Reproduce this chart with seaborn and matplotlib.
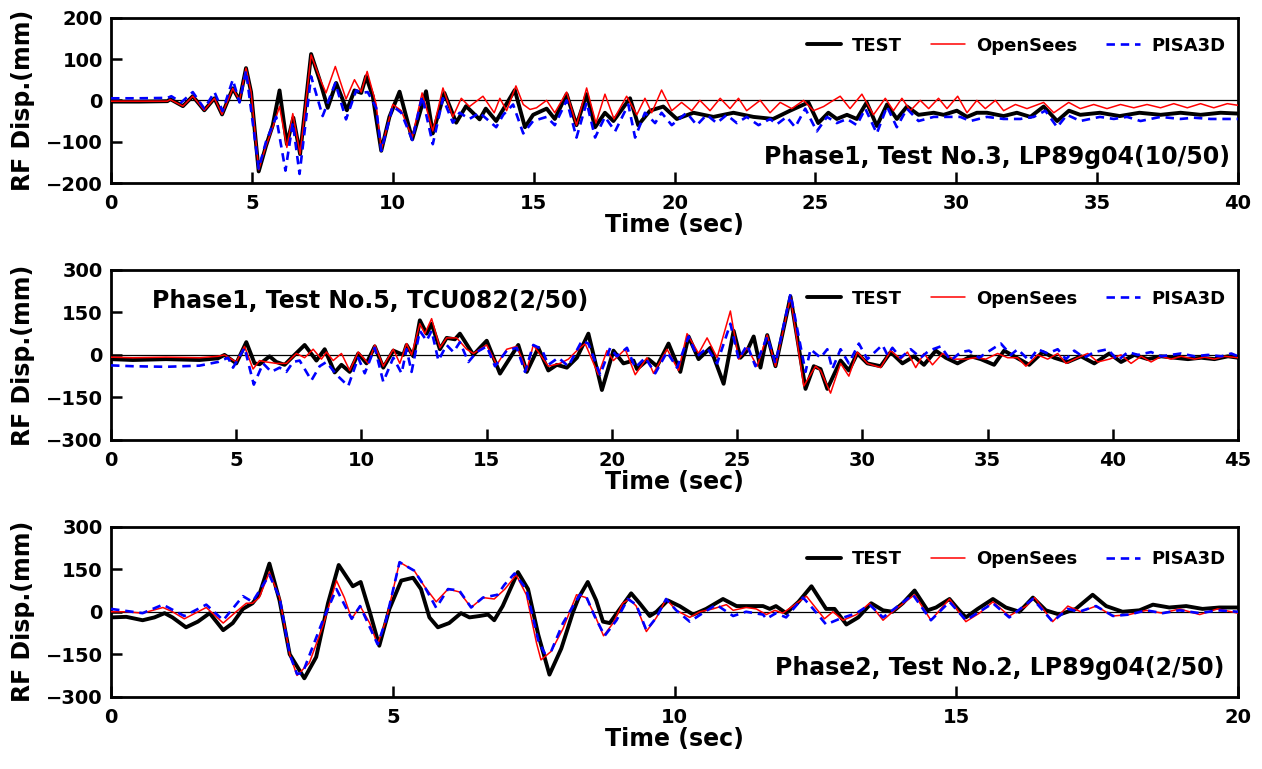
import numpy as np
import pandas as pd
import seaborn as sns
import matplotlib.pyplot as plt

# ---- panel 1 : Phase1, Test No.3, LP89g04(10/50) ----
p1_test_t = [0, 1.0, 2.0, 2.1, 2.55, 2.9, 3.31, 3.67, 3.94, 4.32, 4.56, 4.79, 4.97, 5.24, 5.5, 5.74, 5.98, 6.24, 6.47, 6.71,
             7.1, 7.4, 7.69, 7.99, 8.37, 8.64, 8.88, 9.05, 9.29, 9.59, 9.88, 10.24, 10.69, 11.18, 11.42, 11.83, 12.25, 12.6,
             13.08, 13.3, 13.67, 14.33, 14.69, 14.98, 15.46, 15.75, 16.17, 16.52, 16.88, 17.18, 17.53, 17.83, 18.42, 18.71,
             19.13, 19.6, 20.08, 20.67, 21.38, 22.09, 22.8, 23.5, 24.1, 24.75, 25.1, 25.46, 25.76, 26.12, 26.47, 26.82, 27.18,
             27.54, 27.89, 28.25, 28.66, 29.2, 29.55, 30.02, 30.38, 30.73, 31.09, 31.68, 32.15, 32.63, 33.1, 33.58, 34.0, 34.4,
             35.1, 35.8, 36.5, 37.25, 37.96, 38.67, 39.38, 40.0]
p1_test_v = [-3, -3, -2, 3, -14, 10, -24, 5, -34, 29, 0, 78, 20, -172, -110, -60, 24, -106, -42, -130,
             112, 50, -18, 42, -24, 24, 18, 58, 10, -122, -40, 21, -94, 22, -80, 18, -54, -14,
             -46, -20, -50, 25, -65, -35, -20, -45, 15, -60, 15, -65, -30, -50, 5, -60,
             -25, -15, -45, -30, -40, -30, -40, -45, -25, -5, -55, -30, -45, -35, -45, -5, -62,
             -10, -45, -15, -35, -30, -35, -25, -40, -30, -30, -38, -30, -40, -15, -50, -25, -35,
             -30, -38, -30, -35, -30, -35, -30, -32]

p1_os_t = [0, 1.0, 2.0, 2.1, 2.55, 2.9, 3.31, 3.67, 3.94, 4.32, 4.56, 4.79, 4.97, 5.24, 5.5, 5.74, 5.98, 6.24, 6.45, 6.71,
           7.1, 7.4, 7.63, 7.96, 8.34, 8.64, 8.88, 9.09, 9.41, 9.59, 10.0, 10.3, 10.69, 11.04, 11.42, 11.78, 12.13, 12.43,
           12.72, 13.2, 13.6, 13.8, 14.04, 14.37, 14.63, 14.87, 15.1, 15.46, 15.75, 16.17, 16.52, 16.88, 17.21, 17.53, 17.85,
           18.3, 18.66, 18.95, 19.19, 19.54, 19.9, 20.25, 20.61, 20.9, 21.26, 21.62, 21.97, 22.27, 22.56, 23.04, 23.39, 23.75,
           24.16, 24.58, 24.93, 25.29, 25.52, 25.88, 26.23, 26.65, 27.06, 27.48, 27.77, 28.07, 28.37, 28.72, 29.02, 29.37,
           29.67, 30.05, 30.38, 30.73, 31.03, 31.39, 31.68, 32.1, 32.51, 33.1, 33.46, 33.99, 34.4, 34.88, 35.35, 35.83, 36.3,
           36.77, 37.25, 37.72, 38.2, 38.67, 39.14, 39.62, 40.0]
p1_os_v = [-2, -2, -2, 2, -14, 10, -24, 5, -34, 29, 0, 78, 20, -168, -110, -65, -15, -114, -32, -130,
           110, 55, 18, 82, 3, 50, 20, 70, -10, -120, -10, -25, -90, 18, -74, 30, -40, 5,
           -15, 10, -30, 5, -25, 35, -10, -22, -18, 0, -30, 20, -60, 30, -55, 15, -45,
           10, -35, 5, -30, 25, -25, -5, -25, 0, -25, 5, -20, 5, -25, 0, -30, -5,
           -20, 0, -25, -15, -5, 10, -20, 15, -35, 5, -25, 5, -25, 0, -20, 5,
           -20, 10, -30, 0, -20, 0, -25, -10, -20, -5, -30, -5, -20, -10, -20, -10, -18,
           -10, -18, -8, -18, -8, -18, -8, -12]

p1_pisa_t = [0, 1.0, 2.0, 2.14, 2.49, 2.9, 3.31, 3.67, 3.96, 4.32, 4.56, 4.79, 5.24, 5.5, 5.86, 6.19, 6.45, 6.69,
             7.1, 7.51, 7.96, 8.34, 8.7, 8.88, 9.11, 9.41, 9.59, 10.0, 10.3, 10.69, 11.04, 11.42, 11.78, 12.13, 12.37,
             12.72, 13.08, 13.67, 13.92, 14.27, 14.63, 14.98, 15.46, 15.75, 16.17, 16.52, 16.88, 17.18, 17.53, 17.89,
             18.36, 18.6, 18.95, 19.31, 19.54, 19.9, 20.43, 20.79, 21.14, 21.5, 21.85, 22.21, 22.56, 22.98, 23.39, 23.63,
             23.98, 24.28, 24.64, 25.05, 25.41, 25.76, 26.12, 26.47, 26.77, 27.18, 27.54, 27.89, 28.25, 28.66, 29.2,
             30.14, 30.5, 31.09, 31.68, 32.27, 32.75, 33.16, 33.58, 33.93, 34.4, 35.1, 35.59, 36.06, 36.54, 37.25,
             37.96, 38.43, 39.02, 40.0]
p1_pisa_v = [5, 5, 6, 10, -5, 20, -20, 20, -26, 50, -5, 72, -165, -100, -40, -170, -54, -178,
             58, -38, 42, -46, 24, 18, 20, -18, -122, -14, -30, -96, 10, -106, 5, -54, -30,
             -45, -30, -65, -35, -10, -80, -50, -40, -60, 0, -90, -5, -90, -40, -75,
             -10, -90, -30, -55, -30, -60, -30, -60, -35, -55, -35, -55, -40, -60, -45, -58,
             -40, -65, -20, -75, -40, -55, -45, -60, -20, -80, -15, -65, -20, -50, -40,
             -40, -50, -40, -45, -45, -40, -25, -65, -35, -50, -40, -45, -40, -50, -40,
             -45, -42, -45, -45]

# ---- panel 2 : Phase1, Test No.5, TCU082(2/50) ----
p2_test_t = [0, 0.87, 2.2, 3.53, 4.27, 4.53, 5.0, 5.4, 5.73, 5.93, 6.33, 6.6, 6.93, 7.27, 7.73, 8.2, 8.53, 8.93, 9.2,
             9.53, 9.87, 10.2, 10.53, 10.87, 11.27, 11.67, 11.8, 12.07, 12.33, 12.6, 12.8, 13.13, 13.4, 13.73, 13.93,
             14.47, 14.73, 15.0, 15.53, 16.26, 16.6, 17.06, 17.46, 17.8, 18.2, 18.6, 19.06, 19.6, 20.06, 20.46, 20.86,
             21.0, 21.46, 21.8, 22.26, 22.73, 23.06, 23.46, 23.93, 24.46, 24.86, 25.13, 25.4, 25.66, 25.93, 26.2, 26.53,
             27.13, 27.73, 28.06, 28.33, 28.6, 29.13, 29.46, 29.8, 30.2, 30.73, 31.13, 31.6, 32.06, 32.46, 32.93, 33.33,
             33.8, 34.33, 34.73, 35.26, 35.66, 36.06, 36.66, 37.2, 37.66, 38.2, 38.73, 39.26, 39.86, 40.33, 40.86, 41.4,
             41.93, 42.46, 43.0, 43.53, 44.06, 44.6, 45.0]
p2_test_v = [-15, -18, -15, -18, -12, 0, -30, 45, -30, -33, -5, -25, -35, -5, 35, -20, 20, -62, -35,
             -60, 5, -30, 30, -45, 15, 0, 35, -5, 122, 75, 110, 20, 60, 55, 75,
             0, 25, 50, -66, 35, -60, 25, -55, -35, -45, -10, 75, -124, 15, -30, -20,
             -50, -15, -40, 40, -60, 65, -15, 25, -102, 85, -10, 15, 65, -45, 70, -40,
             206, -120, -40, -50, -120, -20, -55, 5, -30, -40, 10, -30, -5, -35, 15, -10,
             -30, -5, -15, -35, 15, -5, -35, 10, -10, -25, -5, -30, 5, -25, 0, -15,
             -5, -10, -15, -10, -15, -5, -10]

p2_os_t = [0, 0.87, 2.2, 3.53, 4.27, 4.53, 5.0, 5.33, 5.67, 5.93, 6.2, 6.6, 7.0, 7.4, 7.73, 8.07, 8.4, 8.6, 8.87, 9.2,
           9.53, 9.87, 10.27, 10.53, 10.87, 11.27, 11.53, 11.8, 12.0, 12.33, 12.53, 12.8, 13.13, 13.4, 13.8, 14.2, 14.47,
           14.73, 15.0, 15.4, 15.8, 16.2, 16.6, 16.86, 17.06, 17.46, 17.93, 18.26, 18.6, 18.93, 19.46, 19.8, 20.06, 20.53,
           20.93, 21.4, 21.66, 22.2, 22.66, 23.0, 23.46, 23.8, 24.2, 24.73, 25.06, 25.4, 25.8, 26.2, 26.53, 27.13, 27.66,
           28.13, 28.33, 28.73, 29.13, 29.46, 29.8, 30.2, 30.73, 31.13, 31.53, 31.8, 32.13, 32.46, 32.8, 33.2, 33.66,
           34.13, 34.53, 34.93, 35.4, 35.8, 36.2, 36.53, 37.0, 37.4, 37.8, 38.13, 38.6, 39.0, 39.4, 39.86, 40.33, 40.73,
           41.13, 41.53, 41.93, 42.33, 42.73, 43.26, 43.66, 44.06, 44.46, 45.0]
p2_os_v = [-8, -10, -8, -10, -5, 0, -25, 30, -50, -20, -25, -30, -30, 5, -10, 20, -15, 10, -20, 5,
           -55, 10, -30, 35, -40, 20, -30, 40, 0, 110, 75, 128, 25, 60, 60, 20, 5,
           20, 35, -35, 20, 30, -55, 35, 10, -40, -30, -15, 15, 40, -70, 15, -20, 20,
           -70, -10, -65, 20, -55, 75, 5, 60, -10, 155, -15, 25, -40, 70, -40, 205, -110,
           -40, -55, -135, -30, -75, 10, -30, -45, 15, -15, 10, -45, 5, -35, 5, -15,
           -15, -10, -15, 5, -10, -10, -40, 0, -15, 5, -30, -10, 5, -25, -15, 0, -30,
           -5, -25, -5, -15, -5, -15, -8, -15, -5, -10]

p2_pisa_t = [0, 0.87, 2.2, 3.53, 4.27, 4.67, 4.87, 5.33, 5.7, 6.07, 6.4, 6.73, 7.0, 7.27, 7.53, 8.0, 8.33, 8.6, 9.0,
             9.47, 9.87, 10.13, 10.53, 10.87, 11.27, 11.6, 11.8, 12.0, 12.33, 12.6, 12.8, 13.07, 13.4, 13.67, 13.93,
             14.27, 14.6, 15.0, 15.33, 15.8, 16.2, 16.53, 16.86, 17.2, 17.46, 17.86, 18.26, 18.8, 19.06, 19.53, 19.93,
             20.2, 20.6, 20.93, 21.33, 21.73, 22.2, 22.6, 23.06, 23.4, 23.8, 24.2, 24.73, 25.06, 25.4, 25.73, 26.2,
             26.53, 27.13, 27.73, 27.93, 28.33, 28.6, 28.8, 29.13, 29.46, 29.86, 30.2, 30.8, 31.0, 31.2, 31.53, 31.93,
             32.33, 32.66, 33.13, 33.53, 33.93, 34.26, 34.66, 35.0, 35.53, 35.93, 36.2, 36.66, 37.0, 37.4, 37.8, 38.13,
             38.46, 38.86, 39.26, 39.8, 40.2, 40.6, 41.0, 41.53, 41.93, 42.33, 42.73, 43.26, 43.8, 44.33, 44.73, 45.0]
p2_pisa_v = [-37, -40, -42, -38, -25, -10, -45, 25, -105, -30, -60, -45, -60, -25, -20, -90, -40, -25, -70,
             -110, -10, -65, 25, -95, -10, -65, 20, -60, 85, 50, 85, -20, 35, 10, 45,
             -25, 10, 30, -40, 15, 25, -60, 35, 20, -35, -10, -40, 50, 40, -70, 25,
             -5, 25, -45, -10, -65, 10, -45, 65, -5, 25, -30, 110, -15, 35, -40, 65,
             -30, 215, -60, 20, -10, 20, -50, 20, -30, 40, -15, 35, 0, 25, -10, 20,
             -10, 15, 30, -20, 10, 15, -10, 10, 40, 0, 20, -20, 20, 5, 20, -15,
             15, -10, 10, 20, -20, 10, 0, 10, -5, 0, 5, -5, 0, -5, 5, -5]

# ---- panel 3 : Phase2, Test No.2, LP89g04(2/50) ----
p3_test_t = [0, 0.27, 0.56, 0.77, 0.95, 1.09, 1.33, 1.54, 1.75, 1.99, 2.16, 2.34, 2.51, 2.63, 2.81, 2.99, 3.17, 3.43,
             3.64, 3.85, 4.04, 4.29, 4.43, 4.59, 4.76, 4.94, 5.15, 5.36, 5.5, 5.65, 5.8, 6.0, 6.21, 6.36, 6.54, 6.69,
             6.8, 6.95, 7.22, 7.4, 7.58, 7.78, 7.99, 8.2, 8.3, 8.46, 8.61, 8.73, 8.85, 9.03, 9.23, 9.38, 9.56, 9.68,
             9.88, 10.09, 10.33, 10.56, 10.86, 11.1, 11.57, 11.69, 11.8, 11.98, 12.2, 12.43, 12.69, 12.84, 13.05,
             13.26, 13.49, 13.7, 13.87, 14.05, 14.26, 14.49, 14.64, 14.88, 15.05, 15.17, 15.38, 15.65, 15.88, 16.12,
             16.36, 16.59, 16.83, 17.12, 17.42, 17.66, 17.95, 18.25, 18.49, 18.78, 19.08, 19.37, 19.67, 20.0]
p3_test_v = [-20, -18, -30, -20, -5, -20, -55, -35, -5, -65, -40, 10, 30, 60, 170, 40, -150, -235,
             -160, 30, 165, 90, 105, 0, -120, 10, 110, 120, 80, -20, -55, -40, -5, -20, -15, -10,
             -30, 20, 140, 80, -80, -222, -130, 0, 50, 105, 40, -35, -40, 10, 65, 30, -15, 0,
             40, 20, -10, 10, 45, 20, 20, 10, 20, -5, 35, 90, 10, 10, -45,
             -20, 30, 5, 0, 30, 75, 5, 15, 45, 5, -20, 10, 45, 15, 0,
             50, 5, -10, 10, 60, 20, 0, 5, 25, 15, 20, 10, 15, 15]

p3_os_t = [0, 0.27, 0.56, 0.92, 1.09, 1.3, 1.69, 1.99, 2.22, 2.4, 2.51, 2.63, 2.81, 2.99, 3.17, 3.3, 3.52, 3.76, 4.0,
           4.14, 4.27, 4.42, 4.59, 4.73, 4.88, 5.12, 5.38, 5.56, 5.77, 5.98, 6.18, 6.39, 6.6, 6.8, 6.99, 7.19, 7.37,
           7.55, 7.63, 7.81, 8.02, 8.26, 8.43, 8.58, 8.74, 8.91, 9.08, 9.2, 9.32, 9.5, 9.68, 9.85, 10.03, 10.27, 10.45,
           10.68, 10.92, 11.04, 11.27, 11.45, 11.63, 11.78, 11.92, 12.1, 12.34, 12.52, 12.66, 12.81, 12.99, 13.23,
           13.46, 13.7, 13.93, 14.26, 14.55, 14.88, 15.17, 15.41, 15.65, 15.94, 16.24, 16.39, 16.71, 16.98, 17.21,
           17.48, 17.78, 18.07, 18.37, 18.66, 18.96, 19.32, 19.64, 20.0]
p3_os_v = [0, 0, -5, 15, 0, -25, 15, -40, 0, 30, 30, 50, 140, 50, -150, -225, -180, -50, 110,
           50, -25, 20, -40, -115, -30, 175, 145, 90, 35, 80, 70, 15, 50, 45, 80, 130, 60,
           -110, -170, -140, -60, 60, 50, -10, -85, -40, 30, 45, 20, -70, -20, 45, 5, -20, 0,
           10, 25, 5, 15, 10, -10, 5, -5, 20, 55, 10, -25, 0, -30, -10,
           30, -30, 10, 60, -30, 45, -35, -5, 35, -15, 20, 50, -35, 20, 0,
           20, -15, -10, 5, -5, 10, -10, 10, -5]

p3_pisa_t = [0, 0.56, 0.92, 1.3, 1.69, 1.99, 2.34, 2.51, 2.81, 2.99, 3.17, 3.3, 3.4, 3.76, 4.0, 4.27, 4.42, 4.73,
             4.88, 5.12, 5.38, 5.56, 5.77, 5.98, 6.18, 6.39, 6.6, 6.86, 6.98, 7.16, 7.37, 7.58, 7.69, 7.81, 8.02,
             8.32, 8.43, 8.58, 8.76, 8.97, 9.17, 9.32, 9.5, 9.68, 9.85, 10.03, 10.27, 10.5, 10.74, 11.04, 11.27,
             11.57, 11.63, 11.8, 11.98, 12.28, 12.46, 12.69, 12.93, 13.23, 13.46, 13.7, 14.23, 14.55, 14.88, 15.17,
             15.65, 15.94, 16.36, 16.71, 16.98, 17.18, 17.48, 17.78, 18.07, 18.37, 18.66, 18.96, 19.32, 19.64, 20.0]
p3_pisa_v = [10, -5, 25, -15, 25, -30, 55, 35, 130, 50, -150, -220, -216, -30, 80, -25, 20, -115,
             -30, 175, 145, 90, 14, 80, 75, 15, 50, 60, 95, 135, 80, -100, -146, -140, -40,
             60, 55, -15, -85, -30, 45, 25, -65, -20, 45, 5, -35, -5, 25, -15, 0,
             -10, -25, -5, -20, 50, 10, -45, -25, -5, 25, -20, 60, -30, 35, -30,
             30, -20, 45, -35, 10, 0, 20, -15, -10, 5, -5, 5, -5, 5, 0]

panels = [
    dict(series=[(p1_test_t, p1_test_v), (p1_os_t, p1_os_v), (p1_pisa_t, p1_pisa_v)],
         xmax=40, ylim=200, yticks=[-200, -100, 0, 100, 200],
         title="Phase1, Test No.3, LP89g04(10/50)", tpos=(0.993, 0.16), ha="right", leg_y=0.83),
    dict(series=[(p2_test_t, p2_test_v), (p2_os_t, p2_os_v), (p2_pisa_t, p2_pisa_v)],
         xmax=45, ylim=300, yticks=[-300, -150, 0, 150, 300],
         title="Phase1, Test No.5, TCU082(2/50)", tpos=(0.036, 0.82), ha="left", leg_y=0.83),
    dict(series=[(p3_test_t, p3_test_v), (p3_os_t, p3_os_v), (p3_pisa_t, p3_pisa_v)],
         xmax=20, ylim=300, yticks=[-300, -150, 0, 150, 300],
         title="Phase2, Test No.2, LP89g04(2/50)", tpos=(0.988, 0.17), ha="right", leg_y=0.81),
]

names = ["TEST", "OpenSees", "PISA3D"]
colors = ["black", "red", "blue"]
widths = [2.8, 1.1, 1.9]
styles = ["-", "-", (0, (3.2, 2.2))]

sns.set_style("ticks")
plt.rcParams["font.family"] = ["DejaVu Sans"]
plt.rcParams["font.weight"] = "bold"
for key in ["text.color", "axes.labelcolor", "xtick.color", "ytick.color", "axes.edgecolor"]:
    plt.rcParams[key] = "black"

fig = plt.figure(figsize=(12.62, 7.69), dpi=100)
boxes = [(0.088, 0.762, 0.893, 0.215), (0.088, 0.428, 0.893, 0.221), (0.088, 0.094, 0.893, 0.221)]

for box, p in zip(boxes, panels):
    ax = fig.add_axes(box)
    ax.axhline(0, color="black", lw=0.9, zorder=1)
    for (t, v), name, c, lw, ls in zip(p["series"], names, colors, widths, styles):
        df = pd.DataFrame({"t": t, "v": v})
        sns.lineplot(data=df, x="t", y="v", ax=ax, color=c, lw=lw, linestyle=ls,
                     label=name, estimator=None, sort=False, zorder=3)
    ax.set_xlim(0, p["xmax"])
    ax.set_ylim(-p["ylim"], p["ylim"])
    ax.set_xticks(np.arange(0, p["xmax"] + 1, 5))
    ax.set_yticks(p["yticks"])
    ax.tick_params(direction="in", length=8, width=1.8, labelsize=14, colors="black")
    ax.tick_params(axis="x", pad=8)
    ax.tick_params(axis="y", pad=6)
    for lab in ax.get_xticklabels() + ax.get_yticklabels():
        lab.set_fontweight("bold")
    for s in ax.spines.values():
        s.set_linewidth(2.0)
        s.set_color("black")
    ax.set_xlabel("Time (sec)", fontsize=17, fontweight="bold", labelpad=0)
    ax.set_ylabel("RF Disp.(mm)", fontsize=17, fontweight="bold", labelpad=8)
    ax.text(p["tpos"][0], p["tpos"][1], p["title"], transform=ax.transAxes, ha=p["ha"], va="center",
            fontsize=17, fontweight="bold")
    leg = ax.legend(loc="center right", bbox_to_anchor=(0.995, p["leg_y"]), ncol=3, frameon=False,
                    prop={"weight": "bold", "size": 13}, handlelength=1.9, handletextpad=0.6,
                    columnspacing=1.6, borderaxespad=0)
    for txt in leg.get_texts():
        txt.set_color("black")

fig.savefig("out.png", dpi=100)
